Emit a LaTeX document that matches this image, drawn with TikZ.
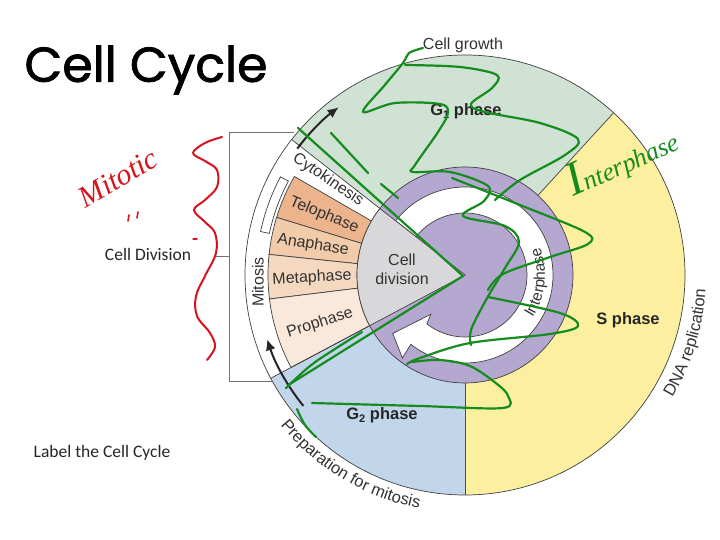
\documentclass[tikz,border=0pt]{standalone}
\usepackage{fontspec}
\setmainfont{Liberation Sans}
\newfontfamily\titlefont[FakeBold=1.6]{Poppins}
\newfontfamily\calfont{Carlito}
\newfontfamily\handfont{Liberation Serif}
\usetikzlibrary{decorations.text,arrows.meta}
\definecolor{gone}{RGB}{207,226,211}
\definecolor{sph}{RGB}{252,240,160}
\definecolor{gtwo}{RGB}{193,213,235}
\definecolor{purp}{RGB}{180,167,208}
\definecolor{grayw}{RGB}{216,216,218}
\definecolor{telo}{RGB}{236,180,140}
\definecolor{ana}{RGB}{242,204,170}
\definecolor{meta}{RGB}{245,216,192}
\definecolor{pro}{RGB}{250,232,218}
\definecolor{scribg}{RGB}{22,140,30}
\definecolor{scribr}{RGB}{215,20,30}
\newcommand{\mysub}[1]{\raisebox{-0.35ex}{\fontsize{11}{11}\selectfont #1}}
\begin{document}
\begin{tikzpicture}[x=1pt,y=1pt,
  outl/.style={draw=black!75, line width=0.7pt},
  lab/.style={font=\fontsize{16}{19}\selectfont, text=black!80, inner sep=0pt},
  phase/.style={font=\bfseries\fontsize{16.5}{16.5}\selectfont, text=black!85, inner sep=0pt},
  scrg/.style={draw=scribg, line width=2.2pt, line cap=round, line join=round},
  scrr/.style={draw=scribr, line width=2pt, line cap=round, line join=round},
  brk/.style={draw=black!55, line width=1pt},
  cyc/.style={line width=2pt, draw=black!85, -{Latex[length=11pt,width=10pt]}}
]
\useasboundingbox (0,0) rectangle (720,540);
\fill[white] (0,0) rectangle (720,540);

% bracket lines
\draw[brk] (294,407) -- (229,407) -- (229,158) -- (274,158);
\draw[brk] (216,283) -- (229,283);

\begin{scope}[shift={(465,265)}]
  \fill[gone] (0,0) -- (47.5:220) arc[start angle=47.5,end angle=142,radius=220] -- cycle;
  \fill[sph] (0,0) -- (-90:220) arc[start angle=-90,end angle=47.5,radius=220] -- cycle;
  \fill[gtwo] (0,0) -- (208:220) arc[start angle=208,end angle=270,radius=220] -- cycle;
  % mitotic sectors
  \filldraw[fill=telo, outl] (150:108) -- (150:197) arc[start angle=150,end angle=163,radius=197] -- (163:108) -- cycle;
  \filldraw[fill=ana, outl] (163:108) -- (163:197) arc[start angle=163,end angle=174,radius=197] -- (174:108) -- cycle;
  \filldraw[fill=meta, outl] (174:108) -- (174:197) arc[start angle=174,end angle=187,radius=197] -- (187:108) -- cycle;
  \filldraw[fill=pro, outl] (187:108) -- (187:197) arc[start angle=187,end angle=208,radius=197] -- (208:108) -- cycle;
  % outer circle and radial lines
  \draw[outl] (0,0) circle[radius=220];
  \draw[outl] (47.5:108) -- (47.5:220);
  \draw[draw=black!45!brown, line width=0.9pt] (270:108) -- (270:220);
  \draw[outl] (142:108) -- (142:220);
  \draw[outl] (208:108) -- (208:220);
  % mitosis strip
  \filldraw[fill=white, outl] (152:200) arc[start angle=152,end angle=168,radius=200] -- (168:209) arc[start angle=168,end angle=152,radius=209] -- cycle;
  % purple disc and interphase ring
  \filldraw[fill=purp, outl] (0,0) circle[radius=108];
  \filldraw[fill=white, outl] (142:88) arc[start angle=142,end angle=-128,radius=88] -- (-127:104) -- (-141:93) -- (-131:52) -- (-128:62) arc[start angle=-128,end angle=142,radius=62] -- cycle;
  % cell division wedge
  \filldraw[fill=grayw, outl] (0,0) -- (142:108) arc[start angle=142,end angle=208,radius=108] -- cycle;
  % cycle arrows
  \draw[cyc] (143:210) arc[start angle=143,end angle=127,radius=210];
  \draw[cyc] (219:208) arc[start angle=219,end angle=198,radius=208];
  % curved labels
  \path[decorate, decoration={text along path, text align=center,
     text={|\fontsize{16.5}{16.5}\selectfont\color{black!80}|Preparation for mitosis}}]
     (214:238) arc[start angle=214,end angle=264,radius=238];
  \path[decorate, decoration={text along path, text align=center,
     text={|\fontsize{16.5}{16.5}\selectfont\color{black!80}|DNA replication}}]
     (-34:241) arc[start angle=-34,end angle=0,radius=241];
  \path[decorate, decoration={text along path, text align=center,
     text={|\fontsize{15.5}{15.5}\selectfont\color{black!80}|Interphase}}]
     (-40:80) arc[start angle=-40,end angle=28,radius=80];
\end{scope}

% labels
\node[lab] (growth) at (463,495) {Cell growth};
\node[phase] (gph1) at (466,429) {G\mysub{1} phase};
\node[phase] (sph) at (628,220) {S phase};
\node[phase] (gph2) at (382,125) {G\mysub{2} phase};
\node[lab, align=center] (celldiv) at (402,271) {Cell\\division};
\node[lab, rotate=-34] (cyto) at (328,360) {Cytokinesis};
\node[lab, rotate=-22] (telo) at (324,325) {Telophase};
\node[lab, rotate=-9] (ana) at (313,295) {Anaphase};
\node[lab, rotate=3] (meta) at (312,262) {Metaphase};
\node[lab, rotate=18] (pro) at (320,217) {Prophase};
\node[lab, rotate=90] (mit) at (258,258) {Mitosis};
\node[font=\titlefont\fontsize{49}{49}\selectfont, inner sep=0pt] (title) at (146,470) {Cell Cycle};
\node[font=\calfont\fontsize{17.5}{17.5}\selectfont, text=black!85, inner sep=0pt] (cdiv) at (148,286) {Cell Division};
\node[font=\calfont\fontsize{17.5}{17.5}\selectfont, text=black!85, inner sep=0pt] (lbl) at (102,87) {Label the Cell Cycle};

% handwritten annotations
\node[font=\handfont\itshape\fontsize{30}{30}\selectfont, text=scribr, rotate=30, inner sep=0pt] (mitotic) at (118,362) {Mitotic};
\node[font=\handfont\itshape\fontsize{26}{26}\selectfont, text=scribg, rotate=24, anchor=base west, inner sep=0pt] (interh) at (573,343) {{\fontsize{48}{48}\selectfont I}nterphase};

\begin{scope}[shift={(0,540)}, yscale=-1]
  % red brace and marks
  \draw[scrr] plot[smooth, tension=0.6] coordinates {(222,137) (205,143) (193,153) (205,161) (217,170) (217,187) (205,200) (194,210) (205,222) (215,233) (216,253) (205,276) (196,296) (197,316) (210,333) (215,347) (207,360)};
  \draw[scrr, line width=1.6pt] (129,215) -- (128,221);
  \draw[scrr, line width=1.6pt] (138,212) -- (137,218);
  \draw[scrr, line width=1.2pt] (193,239) -- (197,239);
  % green scribbles
  \draw[scrg] plot[smooth, tension=0.55] coordinates {(423,48) (409,53) (403,63) (384,86) (363,112) (395,103) (440,104) (448,113) (438,132) (415,165) (413,172) (450,172) (488,186) (484,201) (463,216) (505,226) (519,242) (505,268) (486,300) (471,330) (471,345)};
  \draw[scrg] plot[smooth, tension=0.55] coordinates {(405,65) (460,67) (497,75) (492,88) (471,104) (485,112) (540,123) (578,139) (565,155) (520,180) (495,200)};
  \draw[scrg] plot[smooth, tension=0.55] coordinates {(452,178) (520,205) (585,232) (588,244) (550,257) (503,274) (488,290)};
  \draw[scrg] plot[smooth, tension=0.55] coordinates {(488,297) (560,313) (578,326) (550,334) (470,343) (420,358) (407,364)};
  \draw[scrg] plot[smooth, tension=0.55] coordinates {(312,403) (420,406) (503,408) (508,396) (497,384) (470,366) (440,360) (412,362)};
  \draw[scrg] plot[smooth, tension=0.6] coordinates {(297,409) (305,425) (316,437)};
  \draw[scrg] (298,128) -- (463,276) -- (290,384);
  \draw[scrg] plot[smooth, tension=0.6] coordinates {(286,388) (310,366) (335,349) (362,332)};
  \draw[scrg] (331,133) -- (368,173);
  \draw[scrg] (381,184) -- (398,198);
\end{scope}
\end{tikzpicture}
\end{document}
